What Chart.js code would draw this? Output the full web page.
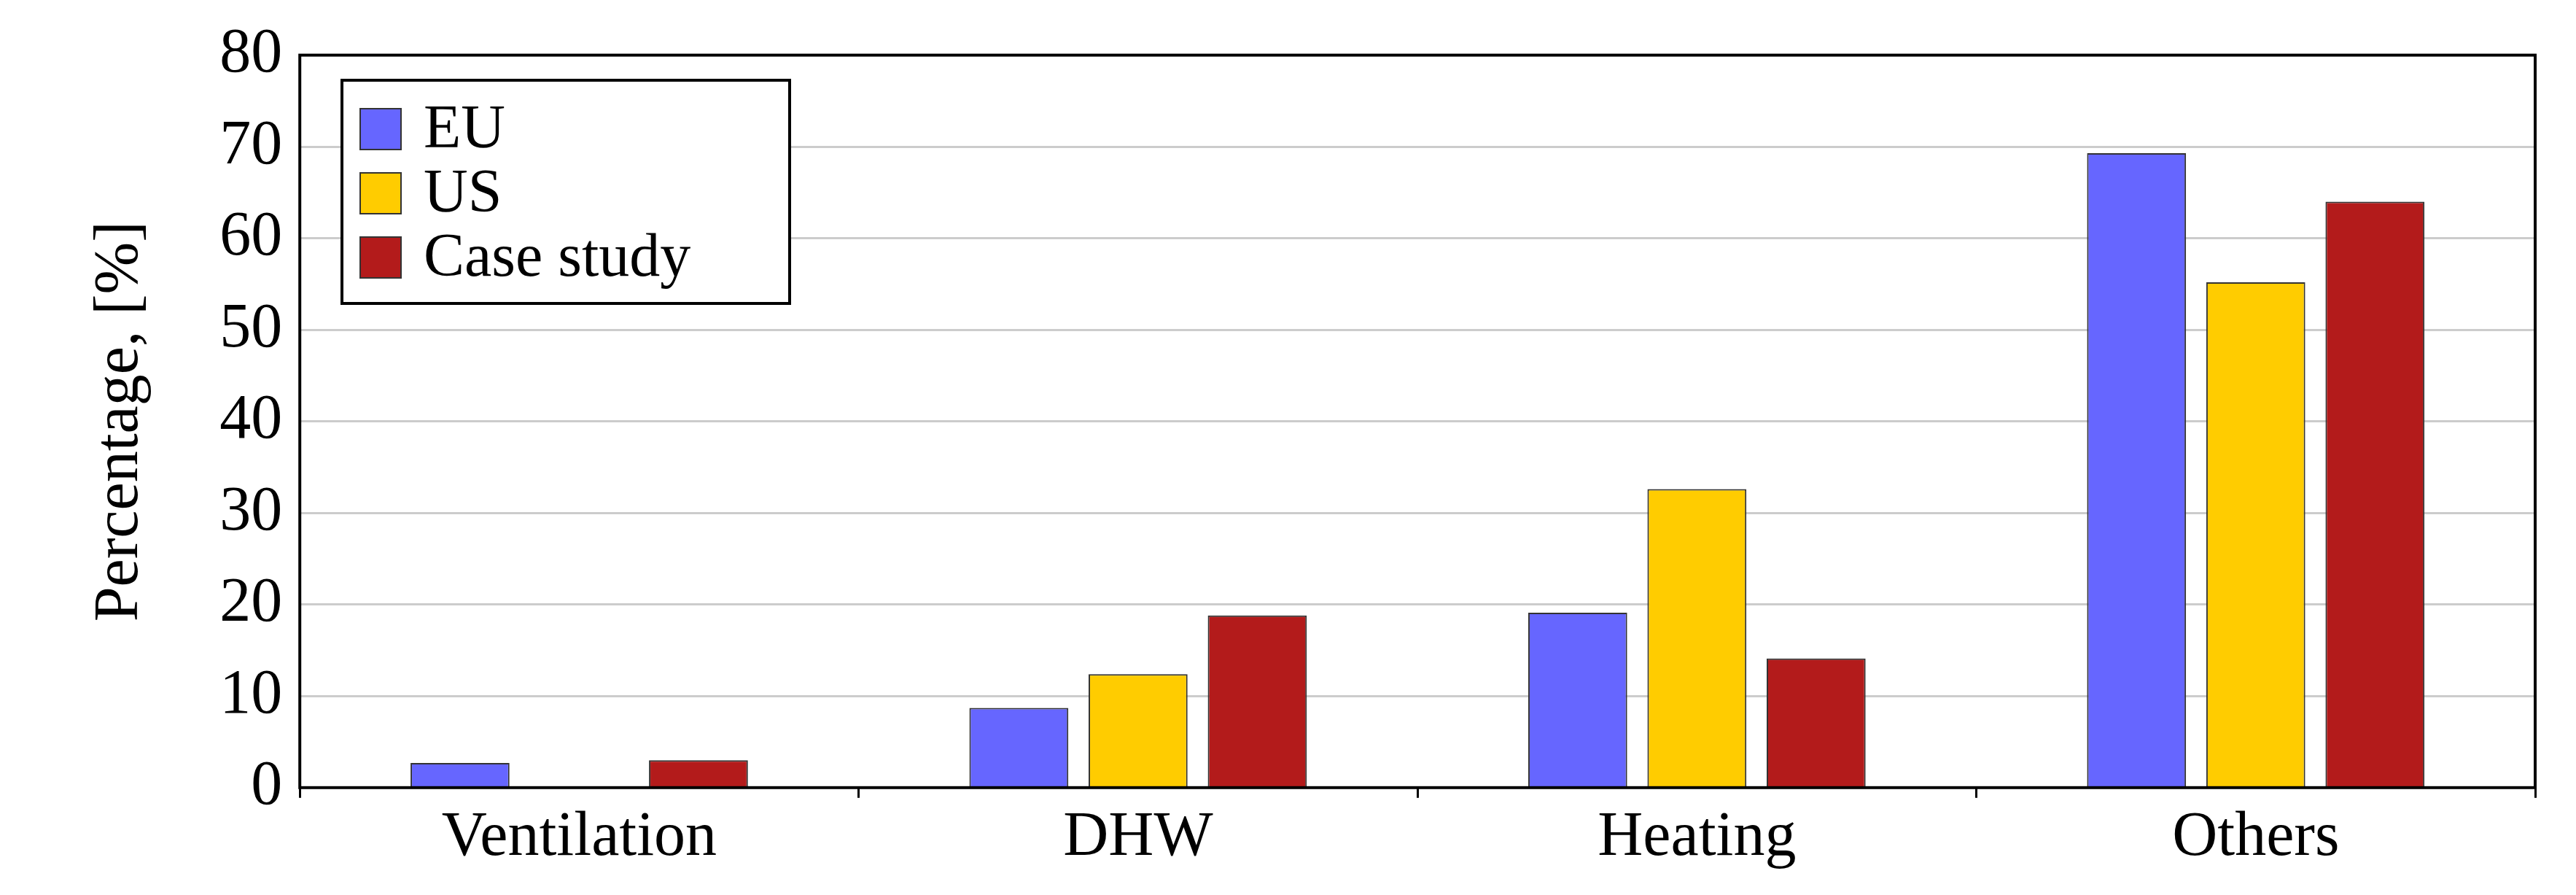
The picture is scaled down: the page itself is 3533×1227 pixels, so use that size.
<!DOCTYPE html>
<html>
<head>
<meta charset="utf-8">
<script src="https://cdn.jsdelivr.net/npm/chart.js@4/dist/chart.umd.min.js"></script>
<style>
body{margin:0;background:#fff;}
#wrap{position:relative;width:3533px;height:1227px;}
#legend{position:absolute;left:467px;top:108px;width:548px;border:4px solid #000;background:#fff;padding:18px 40px 20px 22px;font-family:"Liberation Serif",serif;font-size:84px;line-height:88px;}
#legend span.sw{display:inline-block;width:54px;height:54px;border:2px solid #333;margin-right:30px;vertical-align:-4px;}
</style>
</head>
<body>
<div id="wrap">
<canvas id="grafica" width="3533" height="1227"></canvas>
<div id="legend"></div>
</div>
<script>
//-------------datos-----------------//
const categorias = ['Ventilation','DHW','Heating','Others'];
const serieEU = [2.7, 8.7, 19.1, 69.3];
const serieUS = [0, 12.4, 32.6, 55.2];
const serieCaso = [3.0, 18.8, 14.1, 64.0];
const ticksY = [0,10,20,30,40,50,60,70,80];
const nombres = ['EU','US','Case study'];
const colores = ['#6666ff','#ffcc00','#b31b1b'];
//-----------------------------------//

const fuente = '"Liberation Serif", serif';

// marco negro alrededor del area
const marco = {
	id:'marco',
	afterDraw(chart){
		const a = chart.chartArea, c = chart.ctx;
		c.save();
		c.strokeStyle = '#000';
		c.lineWidth = 4;
		c.strokeRect(a.left, a.top, a.right-a.left, a.bottom-a.top);
		c.restore();
	}
};

const series = [serieEU, serieUS, serieCaso];
const datasets = series.map(function(d,i){
	return {
		label: nombres[i],
		data: d,
		backgroundColor: colores[i],
		borderColor: '#333',
		borderWidth: 2,
		categoryPercentage: 0.64,
		barPercentage: 0.83
	};
});

new Chart(document.getElementById('grafica').getContext('2d'), {
	type:'bar',
	data:{labels:categorias, datasets:datasets},
	plugins:[marco],
	options:{
		responsive:false,
		animation:false,
		layout:{padding:{left:110,right:56,top:74,bottom:22}},
		plugins:{legend:{display:false},tooltip:{enabled:false}},
		scales:{
			x:{
				grid:{offset:true,drawOnChartArea:false,color:'#000',lineWidth:3,tickLength:14},
				border:{display:false},
				ticks:{color:'#000',font:{family:fuente,size:86},padding:4}
			},
			y:{
				min:0,max:80,
				afterBuildTicks(ax){ ax.ticks = ticksY.map(v => ({value:v})); },
				grid:{color:'#cccccc',lineWidth:3,drawTicks:false},
				border:{display:false},
				ticks:{color:'#000',font:{family:fuente,size:86},padding:24},
				title:{display:true,text:'Percentage, [%]',color:'#000',font:{family:fuente,size:86},padding:{bottom:60}}
			}
		}
	}
});

var leg = document.getElementById('legend');
nombres.forEach(function(n,i){
	leg.innerHTML += '<div><span class="sw" style="background:'+colores[i]+'"></span>'+n+'</div>';
});
</script>
</body>
</html>
